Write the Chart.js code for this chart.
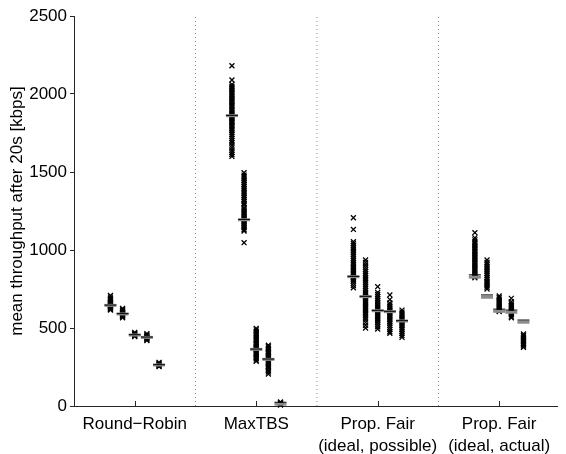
<!DOCTYPE html>
<html>
<head>
<meta charset="utf-8">
<script src="https://cdn.jsdelivr.net/npm/chart.js@4/dist/chart.umd.min.js"></script>
<style>
html,body{margin:0;padding:0;background:#fff;overflow:hidden;}
#wrap{width:566px;height:454px;position:relative;}
</style>
</head>
<body>
<div id="wrap"><canvas id="c" width="566" height="454"></canvas></div>
<script>
// ---- data ----
const categories = [['Round\u2212Robin'], ['MaxTBS'], ['Prop. Fair', '(ideal, possible)'], ['Prop. Fair', '(ideal, actual)']];
const groupCenters = [1, 2, 3, 4];
const subOffsets = [-0.2, -0.1, 0, 0.1, 0.2];
const separators = [1.5, 2.5, 3.5];
const yTicks = [0, 500, 1000, 1500, 2000, 2500];
const yLabel = 'mean throughput after 20s [kbps]';

// Round-Robin samples (5 sub-series)
const rrSamples = [
  [708, 698, 690, 682, 674, 667, 661, 656, 651, 647, 643, 639, 635, 631, 626, 620, 615],
  [626, 618, 611, 604, 598, 593, 588, 583, 578, 572, 566],
  [472, 466, 461, 457, 453, 449, 445],
  [464, 457, 451, 446, 441, 437, 432, 426, 420],
  [280, 274, 269, 265, 261, 256, 252]
];
// MaxTBS samples
const mtSamples = [
  [2181, 2090, 2062, 2050, 2040, 2030, 2020, 2010, 2000, 1990, 1980, 1970, 1960, 1950, 1940, 1928, 1918, 1905, 1895, 1885, 1875, 1866, 1858, 1850, 1842, 1834, 1826, 1818, 1808, 1798, 1788, 1776, 1764, 1752, 1740, 1728, 1714, 1700, 1688, 1672, 1656, 1640, 1625, 1612, 1600],
  [1495, 1480, 1468, 1456, 1444, 1432, 1420, 1408, 1396, 1384, 1372, 1360, 1348, 1336, 1324, 1312, 1300, 1290, 1272, 1262, 1252, 1242, 1232, 1222, 1212, 1202, 1192, 1182, 1172, 1162, 1152, 1142, 1130, 1122, 1047],
  [498, 488, 478, 468, 458, 448, 438, 428, 418, 408, 400, 392, 384, 376, 368, 360, 352, 344, 336, 328, 320, 312, 304, 294, 286],
  [390, 380, 370, 360, 350, 342, 334, 326, 318, 310, 302, 294, 286, 278, 270, 262, 254, 246, 238, 228, 218, 205],
  [26, 20, 15, 10, 6]
];
// Prop. Fair (ideal, possible) samples
const pfPossSamples = [
  [1207, 1132, 1053, 1042, 1030, 1018, 1006, 994, 982, 970, 958, 946, 934, 922, 910, 898, 888, 878, 868, 858, 848, 840, 832, 824, 816, 808, 798, 786, 772, 758],
  [936, 920, 904, 888, 874, 862, 850, 838, 826, 814, 802, 790, 778, 766, 754, 742, 730, 720, 710, 700, 690, 680, 670, 660, 650, 640, 630, 620, 610, 600, 590, 578, 566, 552, 536, 518, 500],
  [765, 728, 715, 702, 690, 678, 666, 655, 645, 635, 625, 615, 605, 595, 585, 575, 565, 555, 545, 535, 522, 508, 493],
  [712, 682, 660, 648, 636, 624, 614, 604, 594, 584, 574, 564, 554, 544, 532, 518, 504, 490, 476, 466],
  [615, 602, 590, 578, 566, 556, 546, 536, 526, 516, 504, 492, 480, 466, 452, 440]
];
// Prop. Fair (ideal, actual) samples
const pfActSamples = [
  [1111, 1078, 1065, 1050, 1040, 1030, 1020, 1010, 1000, 990, 980, 970, 960, 950, 940, 930, 920, 910, 900, 890, 880, 870, 860, 850, 840, 830, 822],
  [936, 920, 908, 896, 884, 872, 860, 848, 836, 824, 812, 800, 790, 780, 770, 760, 750],
  [705, 695, 685, 675, 665, 655, 645, 635, 625, 615, 606],
  [690, 668, 656, 646, 636, 626, 616, 606, 596, 586, 576, 566],
  [462, 452, 442, 432, 422, 412, 402, 392, 384, 376]
];
// mean markers (gray = thick, black = thin)
const rrMeanGray = [645, 590, 455, 440, 263];
const rrMeanBlack = [647, 592, 457, 442, 265];
const mtMeanGray = [1861, 1194, 363, 299, 12];
const mtMeanBlack = [1863, 1196, 365, 301, 24];
const pfPossMeanGray = [829, 701, 611, 605, 545];
const pfPossMeanBlack = [831, 703, 613, 607, 547];
const pfActMeanGray = [826, 697, 607, 601, 537];
const pfActMeanBlack = [841, 712, 621, 615, 551];

// ---- build datasets ----
const groupSamples = [rrSamples, mtSamples, pfPossSamples, pfActSamples];
const groupMeanGray = [rrMeanGray, mtMeanGray, pfPossMeanGray, pfActMeanGray];
const groupMeanBlack = [rrMeanBlack, mtMeanBlack, pfPossMeanBlack, pfActMeanBlack];

const samplePts = [], grayPts = [], blackPts = [];
groupSamples.forEach((grp, g) => {
  grp.forEach((vals, s) => {
    const x = groupCenters[g] + subOffsets[s];
    vals.forEach(v => samplePts.push({x: x, y: v}));
    grayPts.push({x: x, y: groupMeanGray[g][s]});
    blackPts.push({x: x, y: groupMeanBlack[g][s]});
  });
});

const AXIS = '#262626';
const FONT = 'Liberation Sans, Arial, Helvetica, sans-serif';

const sepDatasets = separators.map(p => ({
  type: 'line',
  data: [{x: p, y: 0}, {x: p, y: 2500}],
  borderColor: '#8a8a8a',
  borderWidth: 1,
  borderDash: [1, 3],
  pointRadius: 0,
  showLine: true,
  fill: false,
  order: 5
}));

const innerTicks = {
  id: 'innerTicks',
  afterDatasetsDraw(chart) {
    const {ctx, chartArea, scales} = chart;
    ctx.save();
    ctx.strokeStyle = AXIS;
    ctx.lineWidth = 1;
    groupCenters.forEach(v => {
      const px = Math.round(scales.x.getPixelForValue(v)) + 0.5;
      ctx.beginPath();
      ctx.moveTo(px, chartArea.bottom);
      ctx.lineTo(px, chartArea.bottom - 5);
      ctx.stroke();
    });
    ctx.restore();
  }
};

new Chart(document.getElementById('c'), {
  type: 'scatter',
  data: {
    datasets: [
      {data: blackPts, pointStyle: 'line', pointRadius: 6, borderColor: '#000', borderWidth: 1, backgroundColor: '#000', order: 0, clip: false},
      {data: grayPts, pointStyle: 'line', pointRadius: 6, borderColor: '#8c8c8c', borderWidth: 3, backgroundColor: '#8c8c8c', order: 1, clip: false},
      {data: samplePts, pointStyle: 'crossRot', pointRadius: 3.5, borderColor: '#000', borderWidth: 1.3, backgroundColor: '#000', order: 2, clip: false},
      ...sepDatasets
    ]
  },
  options: {
    responsive: false,
    animation: false,
    events: [],
    layout: {padding: {top: 16, right: 0, bottom: 0, left: 0}},
    plugins: {legend: {display: false}, tooltip: {enabled: false}, title: {display: false}},
    elements: {point: {hoverRadius: 0}},
    scales: {
      x: {
        type: 'linear',
        min: 0.5,
        max: 4.476,
        grid: {display: false},
        border: {display: true, color: AXIS, width: 1},
        afterBuildTicks: (scale) => { scale.ticks = groupCenters.map(v => ({value: v})); },
        afterFit: (scale) => { scale.height = 48; },
        ticks: {
          autoSkip: false,
          maxRotation: 0,
          padding: 0,
          color: '#000',
          font: {family: FONT, size: 17, lineHeight: 1.25},
          callback: (v) => { const i = groupCenters.indexOf(v); return i >= 0 ? categories[i] : ''; }
        }
      },
      y: {
        type: 'linear',
        min: 0,
        max: 2500,
        afterBuildTicks: (scale) => { scale.ticks = yTicks.map(v => ({value: v})); },
        afterFit: (scale) => { scale.width = 74; },
        grid: {display: true, drawOnChartArea: false, drawTicks: true, tickLength: 4, color: AXIS},
        border: {display: true, color: AXIS, width: 1},
        ticks: {padding: 3, color: '#000', font: {family: FONT, size: 17}, callback: (v) => String(v)},
        title: {display: true, text: yLabel, color: '#000', font: {family: FONT, size: 17}, padding: {top: 7, bottom: 0}}
      }
    }
  },
  plugins: [innerTicks]
});
</script>
</body>
</html>
